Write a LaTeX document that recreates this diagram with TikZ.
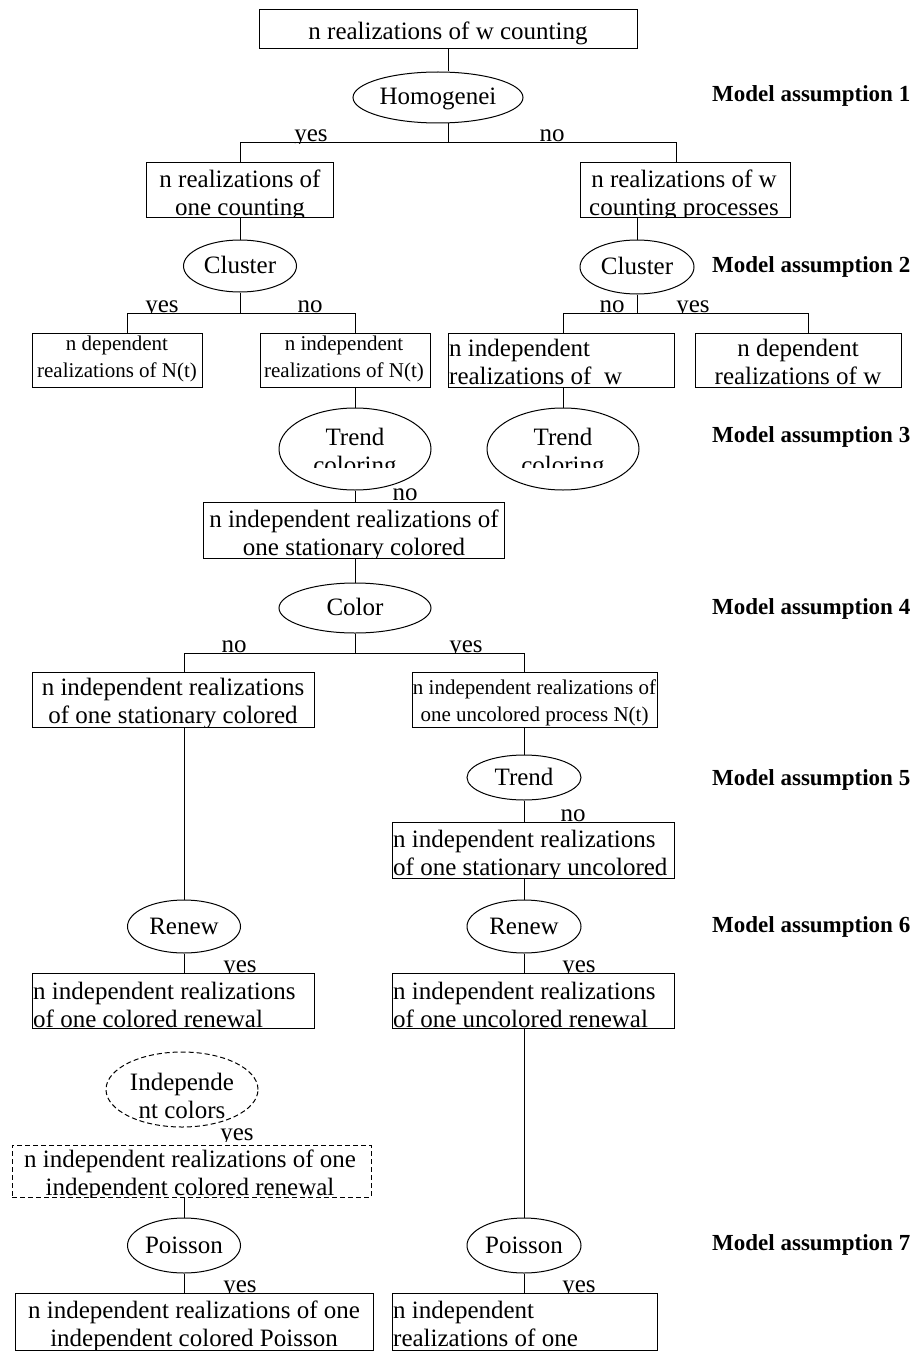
\documentclass[tikz,border=0pt]{standalone}
\usepackage{fontspec}
\setmainfont{Liberation Serif}
\usetikzlibrary{shapes.geometric}
\newcommand\mainsz{\fontsize{25}{28}\selectfont}
\newcommand\smallsz{\fontsize{21}{27}\selectfont}
\newcommand\labsz{\fontsize{23}{26}\selectfont\bfseries}
\newcommand\ynlab[4]{\begin{scope}\clip (#2-30,#3-26) rectangle (#2+30,#3+1.5);\node[yn] (#1) at (#2,#3) {#4};\end{scope}}
\newcommand\cliptext[2]{\begin{scope}\clip (#1.south west) rectangle (#1.north east); #2 \end{scope}}
\tikzset{
  boxn/.style={draw, line width=1pt, rectangle, inner sep=0pt},
  dboxn/.style={boxn, dash pattern=on 5pt off 3pt},
  elln/.style={draw, ellipse, line width=1pt, inner sep=0pt, font=\mainsz, text height=18pt, text depth=3pt},
  delln/.style={elln, dash pattern=on 5pt off 3pt},
  mtxt/.style={font=\mainsz, inner sep=0pt, align=center, anchor=north},
  ltxt/.style={font=\mainsz, inner sep=0pt, align=left, anchor=north west},
  stxt/.style={font=\smallsz, inner sep=0pt, align=center, anchor=north},
  yn/.style={font=\mainsz, inner sep=0pt, anchor=base},
  lab/.style={font=\labsz, inner sep=0pt, anchor=base west},
  conn/.style={line width=1pt},
}
\begin{document}
\begin{tikzpicture}[x=1pt,y=-1pt]
\useasboundingbox (0,0) rectangle (914,1351);

% ---------- boxes ----------
\node[boxn, minimum width=378pt, minimum height=39pt] (T0) at (448,29.5) {};
\node[boxn, minimum width=187pt, minimum height=54pt] (B1L) at (240,190) {};
\node[boxn, minimum width=210pt, minimum height=54pt] (B1R) at (685,190) {};
\node[boxn, minimum width=170pt, minimum height=54pt] (B2a) at (117,360) {};
\node[boxn, minimum width=170pt, minimum height=54pt] (B2b) at (345,360) {};
\node[boxn, minimum width=226pt, minimum height=54pt] (B2c) at (561,360) {};
\node[boxn, minimum width=206pt, minimum height=54pt] (B2d) at (798,360) {};
\node[boxn, minimum width=301pt, minimum height=56pt] (B3) at (353.5,530) {};
\node[boxn, minimum width=282pt, minimum height=55pt] (B4L) at (173,699.5) {};
\node[boxn, minimum width=245pt, minimum height=55pt] (B4R) at (534.5,699.5) {};
\node[boxn, minimum width=282pt, minimum height=56pt] (B5) at (533,850) {};
\node[boxn, minimum width=282pt, minimum height=55pt] (B6L) at (173,1000.5) {};
\node[boxn, minimum width=282pt, minimum height=55pt] (B6R) at (533,1000.5) {};
\node[dboxn, minimum width=359pt, minimum height=52pt] (B7) at (191.5,1171) {};
\node[boxn, minimum width=358pt, minimum height=57pt] (B8L) at (194,1321.5) {};
\node[boxn, minimum width=265pt, minimum height=57pt] (B8R) at (524.5,1321.5) {};

% ---------- ellipses ----------
\node[elln, minimum width=170pt, minimum height=51pt] (E1) at (438,97.5) {Homogenei};
\node[elln, minimum width=113pt, minimum height=52pt] (C1L) at (240,266) {Cluster};
\node[elln, minimum width=114pt, minimum height=54pt] (C1R) at (637,267) {Cluster};
\node[elln, minimum width=152pt, minimum height=82pt] (E3L) at (355,449) {};
\node[elln, minimum width=152pt, minimum height=82pt] (E3R) at (563,449) {};
\node[elln, minimum width=152pt, minimum height=50pt] (E4) at (355,608) {Color};
\node[elln, minimum width=114pt, minimum height=45pt] (E5) at (524,777.5) {Trend};
\node[elln, minimum width=113pt, minimum height=53pt] (E6L) at (184,926.5) {Renew};
\node[elln, minimum width=114pt, minimum height=53pt] (E6R) at (524,926.5) {Renew};
\node[delln, minimum width=152pt, minimum height=75pt] (E7) at (182,1089.5) {};
\node[elln, minimum width=113pt, minimum height=55pt] (E8L) at (184,1245.5) {Poisson};
\node[elln, minimum width=114pt, minimum height=55pt] (E8R) at (524,1245.5) {Poisson};

% ---------- texts in boxes ----------
\cliptext{T0}{\node[mtxt] (T0t) at (448,19.4) {\strut n realizations of w counting};}
\cliptext{B1L}{\node[mtxt] (B1Lt) at (240,167.4) {\strut n realizations of\\\strut one counting};}
\cliptext{B1R}{\node[mtxt] (B1Rt) at (684,167.4) {\strut n realizations of w\\\strut counting processes};}
\cliptext{B2a}{\node[stxt] (B2at) at (117,331.1) {\strut n dependent\\\strut realizations of N(t)};}
\cliptext{B2b}{\node[stxt] (B2bt) at (344,331.1) {\strut n independent\\\strut realizations of N(t)};}
\cliptext{B2c}{\node[ltxt] (B2ct) at (449,336.4) {\strut n independent\\\strut realizations of \ w};}
\cliptext{B2d}{\node[mtxt] (B2dt) at (798,336.4) {\strut n dependent\\\strut realizations of w};}
\begin{scope}\clip (270,400) rectangle (440,467);
\node[mtxt] (E3Lt) at (355,425.4) {\strut Trend\\\strut coloring};
\end{scope}
\begin{scope}\clip (478,400) rectangle (648,467);
\node[mtxt] (E3Rt) at (563,425.4) {\strut Trend\\\strut coloring};
\end{scope}
\cliptext{B3}{\node[mtxt] (B3t) at (354,507.4) {\strut n independent realizations of\\\strut one stationary colored};}
\cliptext{B4L}{\node[mtxt] (B4Lt) at (173,675.4) {\strut n independent realizations\\\strut of one stationary colored};}
\cliptext{B4R}{\node[stxt] (B4Rt) at (534.5,675.1) {\strut n independent realizations of\\\strut one uncolored process N(t)};}
\cliptext{B5}{\node[ltxt] (B5t) at (393,827.4) {\strut n independent realizations\\\strut of one stationary uncolored};}
\cliptext{B6L}{\node[ltxt] (B6Lt) at (33,979.4) {\strut n independent realizations\\\strut of one colored renewal};}
\cliptext{B6R}{\node[ltxt] (B6Rt) at (393,979.4) {\strut n independent realizations\\\strut of one uncolored renewal};}
\node[mtxt] (E7t) at (182,1070.4) {\strut Independe\\\strut nt colors};
\cliptext{B7}{\node[mtxt] (B7t) at (190,1147.4) {\strut n independent realizations of one\\\strut independent colored renewal};}
\cliptext{B8L}{\node[mtxt] (B8Lt) at (194,1298.4) {\strut n independent realizations of one\\\strut independent colored Poisson};}
\cliptext{B8R}{\node[ltxt] (B8Rt) at (393,1298.4) {\strut n independent\\\strut realizations of one};}

% ---------- connectors ----------
\draw[conn] (T0.south) -- (T0.south |- E1.north);
\coordinate (j1) at (448,143);
\coordinate (j1r) at (676,143);
\draw[conn] (j1 |- E1.south) -- (j1);
\draw[conn] (B1L.north) -- (B1L.north |- j1) -- (j1r) -- (j1r |- B1R.north);
\draw[conn] (B1L.south) -- (C1L.north);
\draw[conn] (C1R.north |- B1R.south) -- (C1R.north);
\coordinate (j2a) at (127,313);
\coordinate (j2b) at (355,313);
\draw[conn] (C1L.south) -- (C1L.south |- j2a);
\draw[conn] (j2a |- B2a.north) -- (j2a) -- (j2b) -- (j2b |- B2b.north);
\coordinate (j3a) at (563,313);
\coordinate (j3b) at (808,313);
\draw[conn] (C1R.south) -- (C1R.south |- j3a);
\draw[conn] (j3a |- B2c.north) -- (j3a) -- (j3b) -- (j3b |- B2d.north);
\draw[conn] (E3L.north |- B2b.south) -- (E3L.north);
\draw[conn] (E3R.north |- B2c.south) -- (E3R.north);
\draw[conn] (E3L.south) -- (E3L.south |- B3.north);
\draw[conn] (E4.north |- B3.south) -- (E4.north);
\coordinate (j4a) at (184,653);
\coordinate (j4b) at (524,653);
\draw[conn] (E4.south) -- (E4.south |- j4a);
\draw[conn] (j4a |- B4L.north) -- (j4a) -- (j4b) -- (j4b |- B4R.north);
\draw[conn] (E6L.north |- B4L.south) -- (E6L.north);
\draw[conn] (E5.north |- B4R.south) -- (E5.north);
\draw[conn] (E5.south) -- (E5.south |- B5.north);
\draw[conn] (E6R.north |- B5.south) -- (E6R.north);
\draw[conn] (E6L.south) -- (E6L.south |- B6L.north);
\draw[conn] (E6R.south) -- (E6R.south |- B6R.north);
\draw[conn] (E8R.north |- B6R.south) -- (E8R.north);
\draw[conn] (E8L.north |- B7.south) -- (E8L.north);
\draw[conn] (E8L.south) -- (E8L.south |- B8L.north);
\draw[conn] (E8R.south) -- (E8R.south |- B8R.north);

% ---------- yes / no ----------
\ynlab{y1}{311}{142}{yes}
\ynlab{n1}{552}{142}{no}
\ynlab{y2}{162}{312}{yes}
\ynlab{n2}{310}{312}{no}
\ynlab{n3}{612}{312}{no}
\ynlab{y3}{693}{312}{yes}
\ynlab{n4}{405}{500}{no}
\ynlab{n5}{234}{652}{no}
\ynlab{y5}{466}{652}{yes}
\ynlab{n6}{573}{821}{no}
\ynlab{y7}{240}{972}{yes}
\ynlab{y8}{579}{972}{yes}
\ynlab{y9}{237}{1140}{yes}
\ynlab{y10}{240}{1292}{yes}
\ynlab{y11}{579}{1292}{yes}

% ---------- model assumptions ----------
\node[lab] (M1) at (712,102) {Model assumption 1};
\node[lab] (M2) at (712,272) {Model assumption 2};
\node[lab] (M3) at (712,442) {Model assumption 3};
\node[lab] (M4) at (712,614) {Model assumption 4};
\node[lab] (M5) at (712,785) {Model assumption 5};
\node[lab] (M6) at (712,932) {Model assumption 6};
\node[lab] (M7) at (712,1250) {Model assumption 7};
\end{tikzpicture}
\end{document}
